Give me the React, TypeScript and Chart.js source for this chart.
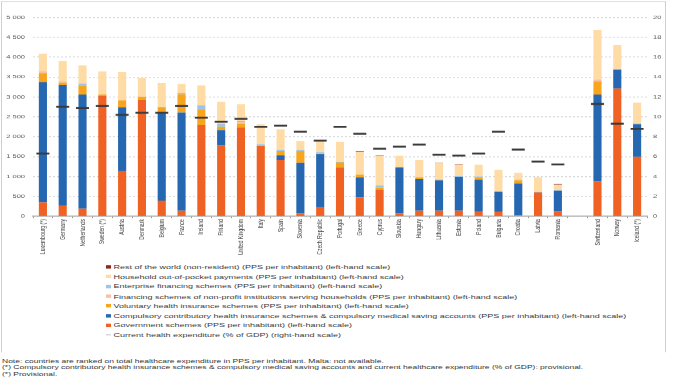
import React, { useEffect, useRef } from "react";
import { Chart, registerables } from "chart.js";

Chart.register(...registerables);

const categories = [
  "Luxembourg (*)", "Germany", "Netherlands", "Sweden (*)", "Austria", "Denmark", "Belgium", "France",
  "Ireland", "Finland", "United Kingdom", "Italy", "Spain", "Slovenia", "Czech Republic", "Portugal",
  "Greece", "Cyprus", "Slovakia", "Hungary", "Lithuania", "Estonia", "Poland", "Bulgaria", "Croatia",
  "Latvia", "Romania", "", "Switzerland", "Norway", "Iceland (*)",
];

const government = [350, 275, 192, 3033, 1133, 2933, 392, 142, 2292, 1792, 2233, 1767, 1417, 75, 225, 1225, 475, 667, 75, 142, 142, 142, 117, 108, 25, 600, 133, null, 883, 3208, 1492];
const compulsory = [3017, 3025, 2866, 0, 1600, 0, 2216, 2466, 0, 375, 0, 0, 116, 1267, 1342, 0, 500, 0, 1150, 800, 758, 850, 800, 509, 800, 0, 509, null, 2175, 475, 825];
const voluntary = [225, 60, 234, 25, 183, 67, 125, 459, 400, 83, 100, 20, 108, 300, 0, 125, 75, 58, 0, 25, 17, 0, 67, 0, 75, 0, 0, null, 334, 0, 0];
const nonProfit = [58, 15, 0, 0, 17, 0, 0, 0, 0, 0, 40, 0, 0, 0, 17, 0, 0, 10, 0, 0, 0, 0, 0, 0, 0, 0, 0, null, 42, 0, 0];
const enterprise = [0, 20, 41, 0, 0, 0, 17, 25, 100, 75, 20, 20, 25, 25, 25, 17, 0, 42, 0, 25, 0, 17, 17, 17, 17, 17, 17, null, 0, 17, 17];
const household = [440, 505, 459, 585, 690, 475, 600, 233, 500, 550, 425, 510, 516, 225, 283, 500, 575, 750, 300, 425, 425, 290, 292, 533, 175, 367, 133, null, 1250, 608, 525];
const restOfWorld = [0, 0, 0, 0, 0, 0, 0, 0, 0, 0, 0, 0, 0, 0, 0, 0, 10, 8, 0, 0, 8, 10, 0, 0, 0, 0, 17, null, 0, 0, 0];
const cheGdp = [6.3, 11.0, 10.9, 11.1, 10.2, 10.4, 10.4, 11.1, 9.9, 9.5, 9.8, 9.0, 9.1, 8.5, 7.6, 9.0, 8.3, 6.8, 7.0, 7.2, 6.2, 6.1, 6.3, 8.5, 6.7, 5.5, 5.2, null, 11.3, 9.3, 8.8];

const legendItems = [
  { label: "Rest of the world (non-resident) (PPS per inhabitant) (left-hand scale)", color: "#8B2A1A", line: false },
  { label: "Household out-of-pocket payments (PPS per inhabitant) (left-hand scale)", color: "#FFDCA6", line: false },
  { label: "Enterprise financing schemes (PPS per inhabitant) (left-hand scale)", color: "#9DC3E6", line: false },
  { label: "Financing schemes of non-profit institutions serving households (PPS per inhabitant) (left-hand scale)", color: "#F8BFA8", line: false },
  { label: "Voluntary health insurance schemes (PPS per inhabitant) (left-hand scale)", color: "#F7A51C", line: false },
  { label: "Compulsory contributory health insurance schemes & compulsory medical saving accounts (PPS per inhabitant) (left-hand scale)", color: "#2567B0", line: false },
  { label: "Government schemes (PPS per inhabitant) (left-hand scale)", color: "#EF6223", line: false },
  { label: "Current health expenditure (% of GDP) (right-hand scale)", color: "#b0b0b0", line: true },
];

const notes = [
  "Note: countries are ranked on total healthcare expenditure in PPS per inhabitant. Malta: not available.",
  "(*) Compulsory contributory health insurance schemes & compulsory medical saving accounts and current healthcare expenditure (% of GDP): provisional.",
  "(*) Provisional.",
];

const K = 0.68;
const FONT = "'Liberation Sans', Arial, sans-serif";

export default function App() {
  const ref = useRef<HTMLCanvasElement | null>(null);

  useEffect(() => {
    if (!ref.current) return;
    const bar = (label: string, data: (number | null)[], color: string) => ({
      type: "bar" as const,
      label,
      data,
      backgroundColor: color,
      borderWidth: 0,
      categoryPercentage: 1,
      barPercentage: 0.41,
      yAxisID: "y",
      order: 1,
    });
    const chart = new Chart(ref.current, {
      type: "bar",
      data: {
        labels: categories,
        datasets: [
          {
            type: "line" as const,
            label: "Current health expenditure (% of GDP) (right-hand scale)",
            data: cheGdp,
            yAxisID: "y1",
            showLine: false,
            pointStyle: "line",
            pointRadius: 6.5,
            pointBorderWidth: 2.8,
            pointBorderColor: "#3a3a3a",
            borderColor: "#3a3a3a",
            order: 0,
          } as any,
          bar("Government schemes", government, "#EF6223"),
          bar("Compulsory contributory", compulsory, "#2567B0"),
          bar("Voluntary", voluntary, "#F7A51C"),
          bar("Non-profit", nonProfit, "#F8BFA8"),
          bar("Enterprise", enterprise, "#9DC3E6"),
          bar("Household", household, "#FFDCA6"),
          bar("Rest of the world", restOfWorld, "#8B2A1A"),
        ],
      },
      options: {
        responsive: false,
        animation: false,
        devicePixelRatio: 1,
        layout: { padding: { top: 25.5, left: 0, right: 0, bottom: 0 } },
        plugins: { legend: { display: false }, tooltip: { enabled: false } },
        scales: {
          x: {
            stacked: true,
            offset: true,
            grid: {
              display: true,
              drawOnChartArea: false,
              drawTicks: true,
              tickLength: 3,
              offset: true,
              color: "#9a9a9a",
              lineWidth: 1,
            },
            border: { display: true, color: "#9a9a9a", width: 1.5 },
            ticks: {
              autoSkip: false,
              minRotation: 90,
              maxRotation: 90,
              padding: 1,
              font: { family: FONT, size: 7.5 },
              color: "#404040",
            },
            afterFit: (s: any) => {
              s.height = 62;
            },
          },
          y: {
            stacked: true,
            position: "left",
            min: 0,
            max: 5000,
            ticks: {
              stepSize: 500,
              padding: 8,
              font: { family: FONT, size: 7.5 },
              color: "#595959",
              callback: (v: any) => String(v).replace(/\B(?=(\d{3})+(?!\d))/g, " "),
            },
            grid: { color: "#d8d8d8", lineWidth: 1.4, drawTicks: false },
            border: { display: false, dash: [2, 2] },
            afterFit: (s: any) => {
              s.width = 33;
            },
          },
          y1: {
            position: "right",
            min: 0,
            max: 20,
            ticks: {
              stepSize: 2,
              padding: 6,
              font: { family: FONT, size: 7.5 },
              color: "#595959",
            },
            grid: { display: false, drawTicks: false },
            border: { display: false },
            afterFit: (s: any) => {
              s.width = 32;
            },
          },
        },
      } as any,
    });
    return () => chart.destroy();
  }, []);

  const rowStart = 392.6;
  const rowStep = 14.3;

  return (
    <div
      style={{
        position: "absolute",
        left: 0,
        top: 0,
        width: 679,
        height: 377 / K,
        transform: `scaleY(${K})`,
        transformOrigin: "top left",
        background: "#fff",
        fontFamily: FONT,
        overflow: "hidden",
      }}
    >
      <div
        style={{
          position: "absolute",
          left: 1,
          top: 1.5,
          width: 665,
          height: 516,
          borderLeft: "1px solid #d0d0d0",
          borderTop: "1.5px solid #d0d0d0",
          borderRight: "1px solid #d0d0d0",
          boxSizing: "border-box",
        }}
      />
      <canvas
        ref={ref}
        width={679}
        height={380}
        style={{ position: "absolute", left: 0, top: 0, width: 679, height: 380 }}
      />
      {legendItems.map((it, i) => {
        const cy = rowStart + i * rowStep;
        return (
          <div
            key={i}
            style={{
              position: "absolute",
              left: 106,
              top: cy - 7,
              height: 14,
              display: "flex",
              alignItems: "center",
              whiteSpace: "nowrap",
              fontSize: 9,
              color: "#3a3a3a",
            }}
          >
            {it.line ? (
              <span style={{ display: "inline-block", width: 5, height: 1.5, background: it.color, marginRight: 2.5 }} />
            ) : (
              <span style={{ display: "inline-block", width: 5, height: 5, background: it.color, marginRight: 2.5 }} />
            )}
            <span>{it.label}</span>
          </div>
        );
      })}
      <div
        style={{
          position: "absolute",
          left: 2,
          top: 526.8,
          fontSize: 8.5,
          lineHeight: "9.6px",
          color: "#333",
          whiteSpace: "nowrap",
        }}
      >
        {notes.map((n, i) => (
          <div key={i}>{n}</div>
        ))}
      </div>
    </div>
  );
}
